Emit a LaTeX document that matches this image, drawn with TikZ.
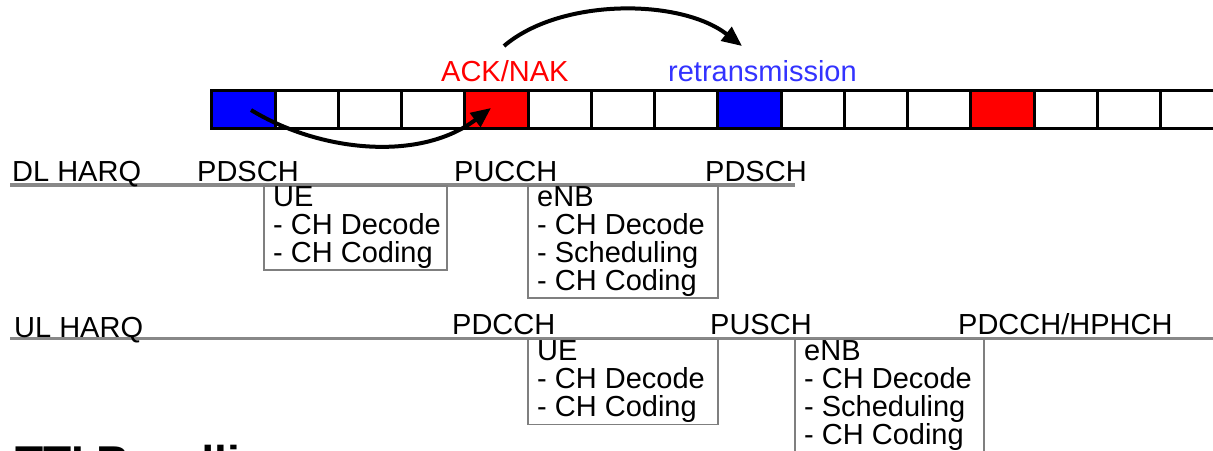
\documentclass[tikz,border=0pt]{standalone}
\usepackage{fontspec}
\setmainfont{Liberation Sans}
\usetikzlibrary{arrows.meta}
\definecolor{linegray}{HTML}{888888}
\definecolor{boxgray}{HTML}{7F7F7F}
\definecolor{retrblue}{HTML}{3333FF}
\tikzset{
  cell/.style={draw=black, line width=3pt, minimum width=63.25pt, minimum height=38pt, inner sep=0pt, outer sep=0pt},
  lbl/.style={font=\fontsize{29}{28}\selectfont, inner sep=0pt, anchor=base west},
  frame/.style={draw=boxgray, line width=1.8pt, anchor=north west, inner sep=0pt, outer sep=0pt},
  boxtext/.style={font=\fontsize{29}{28}\selectfont, inner sep=0pt, anchor=north west, align=left},
  harqline/.style={draw=linegray, line width=3.8pt},
  bigarrow/.style={draw=black, line width=4pt, -{Triangle[length=20pt,width=17pt]}}
}
\begin{document}
\begin{tikzpicture}[x=1pt,y=-1pt]
\useasboundingbox (0,0) rectangle (1213,450);
\clip (0,0) rectangle (1213,450);
% cell row
\foreach \i in {0,...,15}{
  \node[cell] (c\i) at (243.6+63.25*\i,109) {};
}
\node[cell, fill=blue] at (c0) {};
\node[cell, fill=red] at (c4) {};
\node[cell, fill=blue] at (c8) {};
\node[cell, fill=red] at (c12) {};
% labels above
\node[lbl, text=red] (ack) at (441,81) {ACK/NAK};
\node[lbl, text=retrblue] (retr) at (668,81) {retransmission};
% arrows
\coordinate (upS) at (504,46);
\coordinate (upE) at (742,46);
\draw[bigarrow] (upS) .. controls (560,-2) and (680,-2) .. (upE);
\coordinate (loS) at (251,110);
\coordinate (loE) at (491,108);
\draw[bigarrow] (loS) .. controls (320,152) and (420,162) .. (loE);
% DL HARQ
\coordinate (dlL) at (10,185);
\coordinate (dlR) at (795,185);
\draw[harqline] (dlL) -- (dlR);
\node[lbl] (dl) at (12,181) {DL HARQ};
\node[lbl] (pdsch1) at (197,181) {PDSCH};
\node[lbl] (pucch) at (454,181) {PUCCH};
\node[lbl] (pdsch2) at (705,181) {PDSCH};
\node[frame, minimum width=183pt, minimum height=84pt] (dlue) at (264,186) {};
\node[boxtext] (dluet) at (273,186.5) {UE\\- CH Decode\\- CH Coding};
\node[frame, minimum width=190pt, minimum height=112pt] (dlenb) at (528,186) {};
\node[boxtext] (dlenbt) at (537,186.5) {eNB\\- CH Decode\\- Scheduling\\- CH Coding};
% UL HARQ
\coordinate (ulL) at (10,338.5);
\coordinate (ulR) at (1213,338.5);
\draw[harqline] (ulL) -- (ulR);
\node[lbl] (ul) at (14,337) {UL HARQ};
\node[lbl] (pdcch) at (452,334) {PDCCH};
\node[lbl] (pusch) at (710,334) {PUSCH};
\node[lbl] (phich) at (958,334) {PDCCH/HPHCH};
\node[frame, minimum width=190pt, minimum height=85pt] (ulue) at (528,339.5) {};
\node[boxtext] (uluet) at (537,340) {UE\\- CH Decode\\- CH Coding};
\node[frame, minimum width=189pt, minimum height=140pt] (ulenb) at (795,339.5) {};
\node[boxtext] (ulenbt) at (804,340) {eNB\\- CH Decode\\- Scheduling\\- CH Coding};
% cut-off heading
\node[inner sep=0pt, anchor=base west, font=\fontsize{46}{46}\selectfont\bfseries] (tti) at (15,478) {TTI Bundling};
\end{tikzpicture}
\end{document}
